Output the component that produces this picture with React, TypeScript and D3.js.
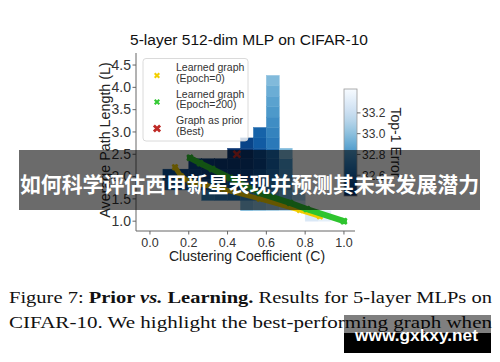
import React from 'react';
import * as d3 from 'd3';

const TITLE = '5-layer 512-dim MLP on CIFAR-10';
const X_LABEL = 'Clustering Coefficient (C)';
const Y_LABEL = 'Average Path Length (L)';
const CB_LABEL = 'Top-1 Error';
const BANNER = '如何科学评估西甲新星表现并预测其未来发展潜力';
const WATERMARK = 'www.gxkxy.net';

const xTicks = [0, 0.2, 0.4, 0.6, 0.8, 1.0];
const yTicks = [1.0, 1.5, 2.0, 2.5, 3.0, 3.5, 4.0, 4.5];
const cbTicks = [32.6, 32.8, 33.0, 33.2];
const errRange = [32.4, 33.43];

// heatmap grid: 15 bins of C over [0,1], 15 bins of L over [1,4.5]
const nBins = 15;
const lRange = [1.0, 4.5];
// one entry per occupied C bin: first occupied L bin, then top-1 error going up
const colBin = [1, 2, 3, 4, 5, 6, 7, 8, 9, 10, 11, 12, 13];
const colFirstRow = [3, 3, 3, 2, 2, 2, 1, 1, 1, 1, 1, 0, 0];
const colErr = [
  [32.56, 32.52],
  [32.55, 32.49],
  [32.6, 32.48, 32.47],
  [32.72, 32.52, 32.45, 32.44],
  [32.68, 32.5, 32.45, 32.43],
  [32.66, 32.52, 32.45, 32.43, 32.41],
  [32.95, 32.72, 32.55, 32.47, 32.44, 32.42, 32.48],
  [33.0, 32.76, 32.6, 32.52, 32.48, 32.5, 32.57, 32.6],
  [33.05, 32.85, 32.7, 32.63, 32.6, 32.63, 32.69, 32.73, 32.77, 32.82, 32.86, 32.91, 32.97],
  [33.1, 32.92, 32.82, 32.78, 32.8, 32.96],
  [33.15, 33.02],
  [33.28],
  [33.33],
];

// learned graph trajectories (C, L)
const epoch0C = [0.129, 0.16, 0.206, 0.376, 0.567, 0.773, 0.876];
const epoch0L = [2.21, 2.01, 1.88, 1.72, 1.5, 1.25, 1.11];
const epoch200C = [0.206, 0.258, 0.32, 0.412, 0.567, 0.722, 0.809, 1.0];
const epoch200L = [2.42, 2.3, 2.17, 1.97, 1.63, 1.41, 1.27, 1.0];
const bestC = 0.448;
const bestL = 2.5;

const YELLOW = '#f0cc00';
const GREEN = '#2ec42e';
const RED = '#bf2a26';
const SANS = '"Liberation Sans", Arial, sans-serif';
const SERIF = '"Liberation Serif", "Times New Roman", serif';

const legendItems = [
  { lines: ['Learned graph', '(Epoch=0)'], color: '#f2cf00', size: 2.3 },
  { lines: ['Learned graph', '(Epoch=200)'], color: '#33c933', size: 2.3 },
  { lines: ['Graph as prior', '(Best)'], color: RED, size: 3.1 },
];

function xPath(cx: number, cy: number, s: number) {
  return `M${cx - s},${cy - s}L${cx + s},${cy + s}M${cx - s},${cy + s}L${cx + s},${cy - s}`;
}

export default function App() {
  const x = d3.scaleLinear().domain([-0.072, 1.057]).range([136, 355]);
  const y = d3.scaleLinear().domain([0.78, 4.77]).range([231, 53]);
  const cb = d3.scaleLinear().domain(errRange).range([196, 89]);
  const color = (v: number) =>
    d3.interpolateBlues(1 - (v - errRange[0]) / (errRange[1] - errRange[0]));

  // build heatmap cells from the bins
  const lStep = (lRange[1] - lRange[0]) / nBins;
  const cells: { x: number; y: number; w: number; h: number; fill: string }[] = [];
  colBin.forEach((i, k) => {
    colErr[k].forEach((v, r) => {
      const j = colFirstRow[k] + r;
      const l0 = lRange[0] + j * lStep;
      cells.push({
        x: x(i / nBins),
        y: y(l0 + lStep),
        w: x((i + 1) / nBins) - x(i / nBins),
        h: y(l0) - y(l0 + lStep),
        fill: color(v),
      });
    });
  });

  const trail = d3.line<[number, number]>().x((d) => x(d[0])).y((d) => y(d[1]));
  const path0 = trail(epoch0C.map((c, i) => [c, epoch0L[i]] as [number, number]));
  const path200 = trail(epoch200C.map((c, i) => [c, epoch200L[i]] as [number, number]));

  const gradStops = d3.range(0, 1.0001, 0.1);

  return (
    <div style={{ position: 'absolute', left: 0, top: 0 }}>
      <svg width={500} height={362} style={{ display: 'block', background: '#fff' }}>
        <defs>
          <linearGradient id="cbar" x1="0" y1="1" x2="0" y2="0">
            {gradStops.map((t) => (
              <stop key={t} offset={t} stopColor={d3.interpolateBlues(1 - t)} />
            ))}
          </linearGradient>
        </defs>

        {/* title */}
        <text x={249} y={45} textAnchor="middle" fontFamily={SANS} fontSize={15.5} fill="#111"
          textLength={238} lengthAdjust="spacingAndGlyphs">
          {TITLE}
        </text>

        {/* heatmap */}
        {cells.map((c, i) => (
          <rect key={i} x={c.x} y={c.y} width={c.w} height={c.h} fill={c.fill}
            stroke={c.fill} strokeWidth={0.4} />
        ))}

        {/* trajectories */}
        <path d={path0 || ''} fill="none" stroke={YELLOW} strokeWidth={5} strokeLinejoin="round" strokeLinecap="round" />
        {epoch0C.map((c, i) => (
          <path key={i} d={xPath(x(c), y(epoch0L[i]), 2.6)} stroke={YELLOW} strokeWidth={2.4} />
        ))}
        <path d={path200 || ''} fill="none" stroke={GREEN} strokeWidth={6} strokeLinejoin="round" strokeLinecap="round" />
        {epoch200C.map((c, i) => (
          <path key={i} d={xPath(x(c), y(epoch200L[i]), 2.8)} stroke={GREEN} strokeWidth={2.6} />
        ))}
        <path d={xPath(x(bestC), y(bestL), 3.4)} stroke={RED} strokeWidth={2.6} />

        {/* axes */}
        <line x1={136} x2={136} y1={53} y2={231} stroke="#666" strokeWidth={1} />
        <line x1={136} x2={355} y1={231} y2={231} stroke="#666" strokeWidth={1} />
        {yTicks.map((t) => (
          <g key={t}>
            <line x1={132.5} x2={136} y1={y(t)} y2={y(t)} stroke="#666" />
            <text x={131} y={y(t) + 4.7} textAnchor="end" fontFamily={SANS} fontSize={14} fill="#333">
              {t.toFixed(1)}
            </text>
          </g>
        ))}
        {xTicks.map((t) => (
          <g key={t}>
            <line x1={x(t)} x2={x(t)} y1={231} y2={234.5} stroke="#666" />
            <text x={x(t)} y={246.5} textAnchor="middle" fontFamily={SANS} fontSize={12.5} fill="#333">
              {t.toFixed(1)}
            </text>
          </g>
        ))}
        <text x={247} y={261} textAnchor="middle" fontFamily={SANS} fontSize={14} fill="#222">
          {X_LABEL}
        </text>
        <text transform="translate(110,140) rotate(-90)" textAnchor="middle" fontFamily={SANS}
          fontSize={14.3} fill="#222">
          {Y_LABEL}
        </text>

        {/* legend */}
        <rect x={143} y={58.5} width={105} height={82.5} rx={3} fill="#fff" fillOpacity={0.8}
          stroke="#d0d0d0" strokeWidth={0.8} />
        {legendItems.map((it, k) => {
          const top = 71 + k * 26.5;
          return (
            <g key={k}>
              <path d={xPath(157, top + 4.5, it.size)} stroke={it.color} strokeWidth={it.size * 0.9} />
              {it.lines.map((s, m) => (
                <text key={m} x={176} y={top + m * 10.7} fontFamily={SANS} fontSize={10.5} fill="#333">
                  {s}
                </text>
              ))}
            </g>
          );
        })}

        {/* colorbar */}
        <rect x={344} y={89} width={13} height={107} fill="url(#cbar)" stroke="#999" strokeWidth={0.8} />
        {cbTicks.map((t) => (
          <g key={t}>
            <line x1={357} x2={360.5} y1={cb(t)} y2={cb(t)} stroke="#666" />
            <text x={362} y={cb(t) + 4.3} fontFamily={SANS} fontSize={12} fill="#333">
              {t.toFixed(1)}
            </text>
          </g>
        ))}
        <text transform="translate(391,142.5) rotate(90)" textAnchor="middle" fontFamily={SANS}
          fontSize={14} fill="#222">
          {CB_LABEL}
        </text>

        {/* caption */}
        <text x={9} y={303} fontFamily={SERIF} fontSize={17.6} fill="#111" textLength={483}
          lengthAdjust="spacingAndGlyphs">
          <tspan>Figure 7: </tspan>
          <tspan fontWeight="bold">Prior </tspan>
          <tspan fontWeight="bold" fontStyle="italic">vs.</tspan>
          <tspan fontWeight="bold"> Learning.</tspan>
          <tspan> Results for 5-layer MLPs on</tspan>
        </text>
        <text x={9} y={327.5} fontFamily={SERIF} fontSize={17.6} fill="#111" textLength={483}
          lengthAdjust="spacingAndGlyphs">
          CIFAR-10. We highlight the best-performing graph when
        </text>

        {/* overlay banner */}
        <rect x={19} y={150} width={461} height={60} fill="#000" fillOpacity={0.58} />
        <text x={20} y={192} fontFamily='"Noto Sans CJK SC", sans-serif' fontWeight="bold" fontSize={21}
          fill="#fff" textLength={459} lengthAdjust="spacingAndGlyphs">
          {BANNER}
        </text>

        {/* watermark */}
        <rect x={344} y={315} width={147} height={18} fill="#000" fillOpacity={0.5} />
        <rect x={344} y={333} width={147} height={20} fill="#000" />
        <text x={355} y={341} fontFamily={SANS} fontWeight="bold" fontSize={17} fill="#fff"
          textLength={123} lengthAdjust="spacingAndGlyphs">
          {WATERMARK}
        </text>
      </svg>
    </div>
  );
}
